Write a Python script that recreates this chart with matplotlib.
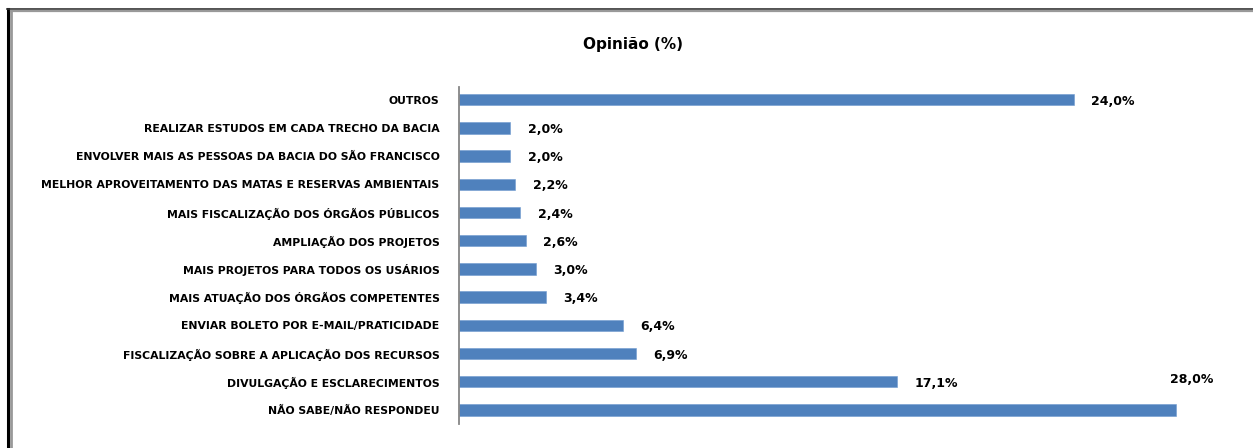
import matplotlib
matplotlib.use("Agg")
import matplotlib.pyplot as plt
from matplotlib.lines import Line2D
import numpy as np

categories = [
    "OUTROS",
    "REALIZAR ESTUDOS EM CADA TRECHO DA BACIA",
    "ENVOLVER MAIS AS PESSOAS DA BACIA DO SÃO FRANCISCO",
    "MELHOR APROVEITAMENTO DAS MATAS E RESERVAS AMBIENTAIS",
    "MAIS FISCALIZAÇÃO DOS ÓRGÃOS PÚBLICOS",
    "AMPLIAÇÃO DOS PROJETOS",
    "MAIS PROJETOS PARA TODOS OS USÁRIOS",
    "MAIS ATUAÇÃO DOS ÓRGÃOS COMPETENTES",
    "ENVIAR BOLETO POR E-MAIL/PRATICIDADE",
    "FISCALIZAÇÃO SOBRE A APLICAÇÃO DOS RECURSOS",
    "DIVULGAÇÃO E ESCLARECIMENTOS",
    "NÃO SABE/NÃO RESPONDEU",
]
values = [24.0, 2.0, 2.0, 2.2, 2.4, 2.6, 3.0, 3.4, 6.4, 6.9, 17.1, 28.0]
value_labels = ["24,0%", "2,0%", "2,0%", "2,2%", "2,4%", "2,6%", "3,0%",
                "3,4%", "6,4%", "6,9%", "17,1%", "28,0%"]
title = "Opinião (%)"

plt.rcParams['font.family'] = ['DejaVu Sans']

W, H = 1253, 448
fig = plt.figure(figsize=(W / 100, H / 100), dpi=100)
fig.patch.set_facecolor("white")

def fx(px): return px / W
def fy(py): return 1 - py / H
fig.add_artist(Line2D([fx(7.5), fx(7.5)], [fy(9), fy(448)], color="black", lw=2.2))
fig.add_artist(Line2D([fx(11), fx(11)], [fy(11), fy(448)], color="#999999", lw=2.0))
fig.add_artist(Line2D([fx(7), fx(1253)], [fy(9.5), fy(9.5)], color="#333333", lw=1.2))
fig.add_artist(Line2D([fx(11), fx(1253)], [fy(11.5), fy(11.5)], color="#999999", lw=1.6))

left_px, top_px, bot_px = 459, 87, 424
xmax = 29.0
px_per_unit = (1176 - 459) / 28.0
right_px = left_px + xmax * px_per_unit
ax = fig.add_axes([fx(left_px), fy(bot_px), (right_px - left_px) / W, (bot_px - top_px) / H])

y = np.arange(len(categories))
ax.barh(y, values, height=0.40, color="#4F81BD", edgecolor="#6F9BD0", linewidth=0.4)
ax.set_xlim(0, xmax)
ax.set_ylim(len(categories) - 0.5, -0.45)

ax.set_yticks(y)
ax.set_yticklabels(categories, fontsize=7.85, fontweight="bold")
ax.tick_params(axis="y", length=0, pad=14)
ax.set_xticks([])
for s in ["top", "right", "bottom"]:
    ax.spines[s].set_visible(False)
ax.spines["left"].set_color("#868686")
ax.spines["left"].set_linewidth(1.3)

for i, (v, lab) in enumerate(zip(values, value_labels)):
    if i == len(values) - 1:
        ax.annotate(lab, xy=(v, i - 1), xytext=(-4.5, 1.5), textcoords="offset points",
                    ha="left", va="center", fontsize=9, fontweight="bold")
    else:
        ax.annotate(lab, xy=(v, i), xytext=(12.5, -1.2), textcoords="offset points",
                    ha="left", va="center", fontsize=9, fontweight="bold")

fig.text(fx(633), fy(44), title, ha="center", va="center", fontsize=11, fontweight="bold")

fig.savefig("out.png", dpi=100)
